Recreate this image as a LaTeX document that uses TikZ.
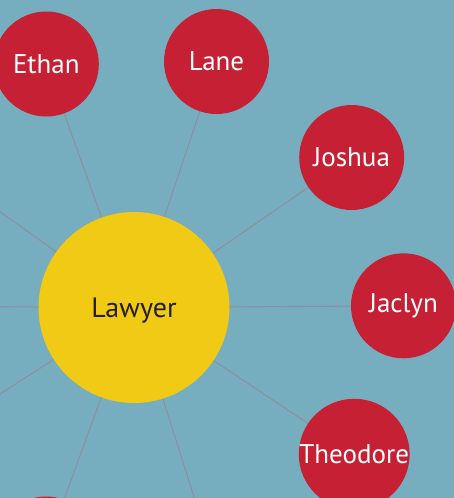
\documentclass[tikz,border=0pt]{standalone}
\usepackage{fontspec}
\setmainfont{PT Sans}
\usetikzlibrary{backgrounds}
\definecolor{bgblue}{HTML}{77AEBF}
\definecolor{hubyellow}{HTML}{F0CA15}
\definecolor{leafred}{HTML}{C52033}
\definecolor{spokegray}{HTML}{8E90A0}
\definecolor{hubtext}{HTML}{231F20}
\tikzset{
  hub/.style={circle, fill=hubyellow, minimum size=191pt, inner sep=0pt, text=hubtext, font=\fontsize{28}{28}\selectfont},
  leaf/.style={circle, fill=leafred, minimum size=105pt, inner sep=0pt, text=white, font=\fontsize{27}{27}\selectfont},
  spoke/.style={draw=spokegray, line width=1.1pt}
}
\begin{document}
\begin{tikzpicture}[x=1pt,y=-1pt]
\useasboundingbox (0,0) rectangle (454,498);
\clip (0,0) rectangle (454,498);
% off-canvas ends of spokes
\coordinate (w) at (-131,306);
\coordinate (nw) at (-82,153);
\coordinate (sw) at (-88,451);
\coordinate (se) at (214,560);
% nodes
\node[hub] (law) at (134,307.5) {\raisebox{-3.5pt}[\height][\depth]{Lawyer}};
\node[leaf] (ethan) at (46.3,64) {Ethan};
\node[leaf] (lane) at (216.5,61.5) {Lane};
\node[leaf] (joshua) at (351.7,157.5) {Joshua};
\node[leaf] (jaclyn) at (403.5,305.8) {Jaclyn};
\node[leaf] (theo) at (354.2,454.2) {Theodore};
\node[leaf] (ssw) at (46,549) {};
% background and spokes
\begin{scope}[on background layer]
\fill[bgblue] (0,0) rectangle (454,498);
\foreach \t in {w,nw,sw,se,ethan,lane,joshua,jaclyn,theo,ssw}{\draw[spoke] (law.center) -- (\t.center);}
\end{scope}
\end{tikzpicture}
\end{document}
